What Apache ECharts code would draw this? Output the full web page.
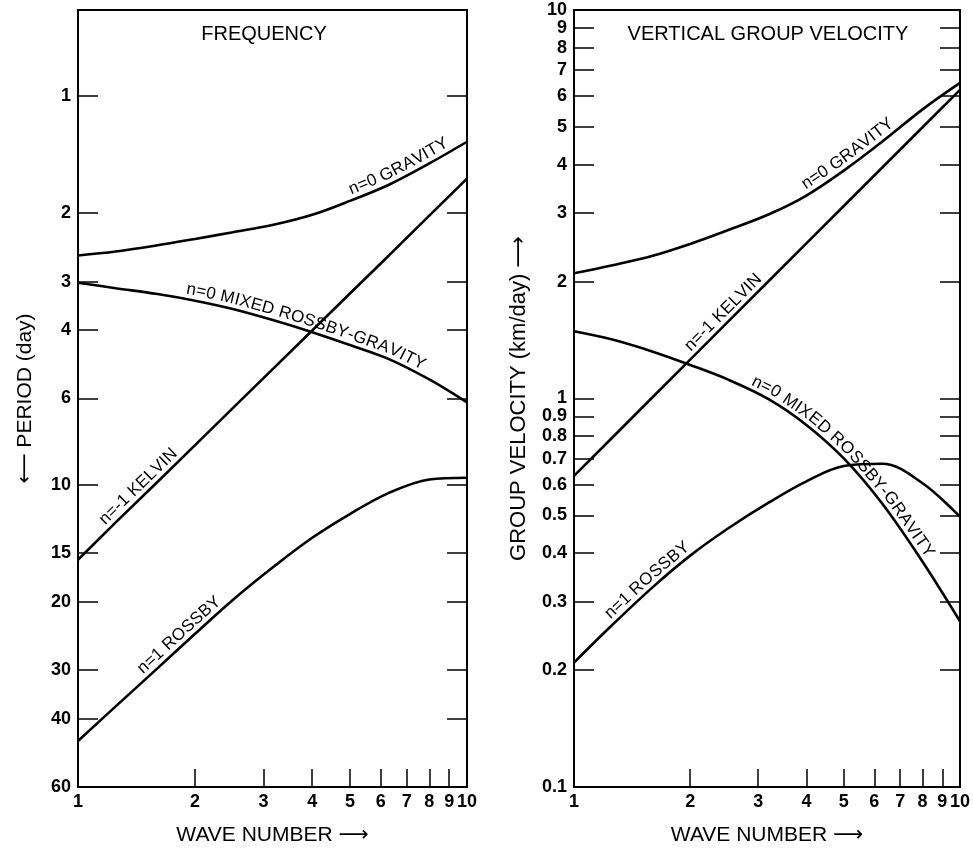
<!DOCTYPE html>
<html><head><meta charset="utf-8">
<script src="https://cdn.jsdelivr.net/npm/echarts@6/dist/echarts.min.js"></script>
<style>html,body{margin:0;padding:0;background:#fff}#c{width:973px;height:851px}</style>
</head><body><div id="c"></div>
<script>
// ---- data ----
const waveNumbers = [1, 1.25, 1.6, 2, 2.5, 3.2, 4, 5, 6.3, 8, 10];
// FREQUENCY panel: period in days
const periodGravity = [2.57, 2.51, 2.42, 2.33, 2.24, 2.14, 2.02, 1.86, 1.69, 1.49, 1.31];
const periodMixed   = [3.02, 3.12, 3.23, 3.36, 3.53, 3.78, 4.05, 4.37, 4.75, 5.36, 6.14];
const periodKelvin  = [15.6, 12.5, 9.84, 7.91, 6.35, 4.99, 4.01, 3.22, 2.57, 2.03, 1.63];
const periodRossby  = [45.7, 37.2, 29.7, 24.2, 19.8, 16.2, 13.7, 11.9, 10.5, 9.7, 9.6];
// VERTICAL GROUP VELOCITY panel: km/day
const cgGravity = [2.10, 2.20, 2.33, 2.50, 2.71, 2.98, 3.33, 3.86, 4.59, 5.55, 6.49];
const cgMixed   = [1.49, 1.42, 1.32, 1.22, 1.12, 0.995, 0.855, 0.701, 0.535, 0.380, 0.267];
const cgKelvin  = [0.632, 0.789, 1.009, 1.259, 1.572, 2.009, 2.507, 3.13, 3.937, 4.99, 6.23];
const cgRossby  = [0.209, 0.260, 0.327, 0.394, 0.462, 0.540, 0.612, 0.670, 0.679, 0.605, 0.496];
// tick values
const waveTickLabels = [1, 2, 3, 4, 5, 6, 7, 8, 9, 10];
const waveTicks = [2, 3, 4, 5, 6, 7, 8, 9];
const periodTickLabels = [1, 2, 3, 4, 6, 10, 15, 20, 30, 40, 60];
const periodTicks = [1, 2, 3, 4, 6, 10, 15, 20, 30, 40];
const cgTickLabels = [0.1, 0.2, 0.3, 0.4, 0.5, 0.6, 0.7, 0.8, 0.9, 1, 2, 3, 4, 5, 6, 7, 8, 9];
const cgTopLabel = [10];
const cgTicks = [0.2, 0.3, 0.4, 0.5, 0.6, 0.7, 0.8, 0.9, 1, 2, 3, 4, 5, 6, 7, 8, 9];

const FONT = '"Liberation Sans", Arial, "DejaVu Sans", sans-serif';
const chart = echarts.init(document.getElementById('c'), null, {renderer: 'canvas'});
const fmt = v => String(+(+v).toPrecision(6));
const lab = {fontSize: 18, color: '#000', fontFamily: FONT, fontWeight: 'bold', showMinLabel: true, showMaxLabel: true};

function xAx(grid) {
  return {
    type: 'log', logBase: 10, min: 1, max: 10, gridIndex: grid,
    name: 'WAVE NUMBER \u27F6', nameLocation: 'middle', nameGap: 38,
    nameTextStyle: {fontSize: 21, color: '#000', fontFamily: FONT},
    axisLine: {show: true, lineStyle: {color: '#000', width: 2}},
    axisTick: {show: true, inside: true, length: 18, customValues: waveTicks, lineStyle: {color: '#000', width: 1.5}},
    axisLabel: Object.assign({margin: 6, customValues: waveTickLabels, formatter: fmt}, lab),
    splitLine: {show: false}, minorTick: {show: false}
  };
}
function yAx(grid, min, max, inverse, ticks, labels, right, name, gap, nameSize) {
  return {
    type: 'log', logBase: 10, min: min, max: max, inverse: inverse, gridIndex: grid,
    position: right ? 'right' : 'left',
    name: right ? '' : name, nameLocation: 'middle', nameGap: gap,
    nameTextStyle: {fontSize: nameSize || 21, color: '#000', fontFamily: FONT},
    axisLine: {show: !right && !!name, lineStyle: {color: '#000', width: 2}},
    axisTick: {show: !!ticks, inside: true, length: 20, customValues: ticks || [], lineStyle: {color: '#000', width: 1.5}},
    axisLabel: Object.assign({show: !!labels, margin: 7, customValues: labels || [], formatter: fmt}, lab),
    splitLine: {show: false}, minorTick: {show: false}
  };
}
function line(grid, yIdx, ys, smooth) {
  return {
    type: 'line', xAxisIndex: grid, yAxisIndex: yIdx, smooth: smooth, symbol: 'none',
    data: waveNumbers.map((k, i) => [k, ys[i]]),
    lineStyle: {color: '#000', width: 2.6}, silent: true, clip: true
  };
}

const option = {
  animation: false,
  backgroundColor: '#fff',
  textStyle: {fontFamily: FONT},
  title: [
    {text: 'FREQUENCY', left: 259, top: 19, textAlign: 'center',
     textStyle: {fontSize: 20, fontWeight: 'normal', color: '#000', fontFamily: FONT}},
    {text: 'VERTICAL GROUP VELOCITY', left: 763, top: 19, textAlign: 'center',
     textStyle: {fontSize: 20, fontWeight: 'normal', color: '#000', fontFamily: FONT}}
  ],
  grid: [
    {left: 78, top: 10, width: 389, height: 779, show: true, borderColor: '#000', borderWidth: 2, backgroundColor: 'transparent'},
    {left: 574, top: 10, width: 389, height: 779, show: true, borderColor: '#000', borderWidth: 2, backgroundColor: 'transparent'}
  ],
  xAxis: [xAx(0), xAx(1)],
  yAxis: [
    yAx(0, 0.6, 60, true, periodTicks, periodTickLabels, false, '\u27F5 PERIOD (day)', 42),
    yAx(0, 0.6, 60, true, periodTicks, null, true, '', 0),
    yAx(1, 0.1, 10, false, cgTicks, cgTickLabels, false, 'GROUP VELOCITY (km/day) \u27F6', 44, 22),
    yAx(1, 0.1, 10, false, cgTicks, null, true, '', 0),
    yAx(1, 0.1, 10, false, null, cgTopLabel, false, '', 0)
  ],
  series: [
    line(0, 0, periodGravity, 0.35),
    line(0, 0, periodMixed, 0.35),
    line(0, 0, periodKelvin, false),
    line(0, 0, periodRossby, 0.35),
    line(1, 2, cgGravity, 0.35),
    line(1, 2, cgMixed, 0.35),
    line(1, 2, cgKelvin, false),
    line(1, 2, cgRossby, 0.35)
  ]
};
chart.setOption(option);

// ---- curve labels, laid out along each curve ----
const curveLabels = [
  {series: 0, ys: periodGravity, text: 'n=0 GRAVITY', start: 5.1},
  {series: 1, ys: periodMixed, text: 'n=0 MIXED ROSSBY-GRAVITY', start: 1.88},
  {series: 2, ys: periodKelvin, text: 'n=-1 KELVIN', start: 1.2},
  {series: 3, ys: periodRossby, text: 'n=1 ROSSBY', start: 1.5},
  {series: 4, ys: cgGravity, text: 'n=0 GRAVITY', start: 4.05},
  {series: 5, ys: cgMixed, text: 'n=0 MIXED ROSSBY-GRAVITY', start: 2.83},
  {series: 6, ys: cgKelvin, text: 'n=-1 KELVIN', start: 2.05},
  {series: 7, ys: cgRossby, text: 'n=1 ROSSBY', start: 1.27}
];
const LABEL_FS = 17, OFFSET = 10, SPACING = 0.2;
const ctx = document.createElement('canvas').getContext('2d');
ctx.font = LABEL_FS + 'px ' + FONT;
const graphics = [];
curveLabels.forEach(cl => {
  const P = waveNumbers.map((k, i) => chart.convertToPixel({seriesIndex: cl.series}, [k, cl.ys[i]]));
  const cum = [0];
  for (let i = 1; i < P.length; i++) cum.push(cum[i - 1] + Math.hypot(P[i][0] - P[i - 1][0], P[i][1] - P[i - 1][1]));
  const total = cum[cum.length - 1];
  const at = s => {
    s = Math.max(0, Math.min(total, s));
    let i = 1;
    while (i < P.length - 1 && cum[i] < s) i++;
    const t = (s - cum[i - 1]) / (cum[i] - cum[i - 1]);
    return [P[i - 1][0] + t * (P[i][0] - P[i - 1][0]), P[i - 1][1] + t * (P[i][1] - P[i - 1][1])];
  };
  const sx = chart.convertToPixel({seriesIndex: cl.series}, [cl.start, cl.ys[0]])[0];
  let s0 = 0;
  for (let i = 1; i < P.length; i++) {
    if (P[i][0] >= sx) { const t = (sx - P[i - 1][0]) / (P[i][0] - P[i - 1][0]); s0 = cum[i - 1] + t * (cum[i] - cum[i - 1]); break; }
  }
  let acc = 0;
  for (const ch of cl.text) {
    const w = ctx.measureText(ch).width + SPACING;
    const s = s0 + acc + w / 2;
    acc += w;
    if (ch === ' ') continue;
    const a = at(s - 9), b = at(s + 9), p = at(s);
    let tx = b[0] - a[0], ty = b[1] - a[1];
    const L = Math.hypot(tx, ty); tx /= L; ty /= L;
    graphics.push({
      type: 'text', silent: true, z: 100,
      x: p[0] + ty * OFFSET, y: p[1] - tx * OFFSET,
      rotation: Math.atan2(-ty, tx),
      style: {text: ch, fontSize: LABEL_FS, fontFamily: FONT, fill: '#000', align: 'center', verticalAlign: 'middle'}
    });
  }
});
chart.setOption({graphic: graphics});
</script>
</body></html>
